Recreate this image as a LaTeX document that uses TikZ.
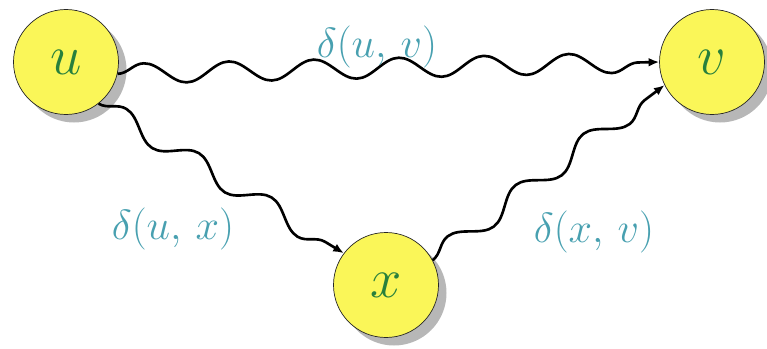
\RequirePackage{fix-cm}
\documentclass[tikz,border=0pt]{standalone}
\usetikzlibrary{positioning,shadows,decorations.pathmorphing,arrows.meta}
\definecolor{vertexyellow}{RGB}{250, 246, 88}
\definecolor{lettergreen}{RGB}{40, 128, 60}
\definecolor{labelteal}{RGB}{72, 160, 176}

\begin{document}
\begin{tikzpicture}[
  node distance=2cm,
  vertex/.style={circle, draw=black!85, thin, fill=vertexyellow, minimum size=2.1cm,
    drop shadow={shadow xshift=0.16cm, shadow yshift=-0.16cm, fill=black!40, opacity=0.7},
    text=lettergreen, font=\fontsize{32}{34}\selectfont},
  dist/.style={text=labelteal, font=\fontsize{24}{28}\selectfont},
  path/.style={-{Latex[length=6pt, width=5pt]}, line width=1.5pt, decorate,
    decoration={snake, segment length=1.7cm, amplitude=0.2cm, post length=2.5mm}}
]
  \useasboundingbox (0,0) rectangle (15.34,-6.96);
  \node[vertex] (u) at (1.32,-1.24) {$u$};
  \node[vertex, right of=u, xshift=10.92cm] (v) {$v$};
  \node[vertex] (x) at (7.72,-5.70) {$x$};

  \draw[path] (u.-13) -- (v.west);
  \draw[path] (u.-52) -- (x.143);
  \draw[path] (x.28) -- (v.-154);

  \node[dist] (duv) at (7.54,-0.94) {$\delta(u,\, v)$};
  \node[dist] (dux) at (3.46,-4.58) {$\delta(u,\, x)$};
  \node[dist] (dxv) at (11.88,-4.64) {$\delta(x,\, v)$};
\end{tikzpicture}
\end{document}
